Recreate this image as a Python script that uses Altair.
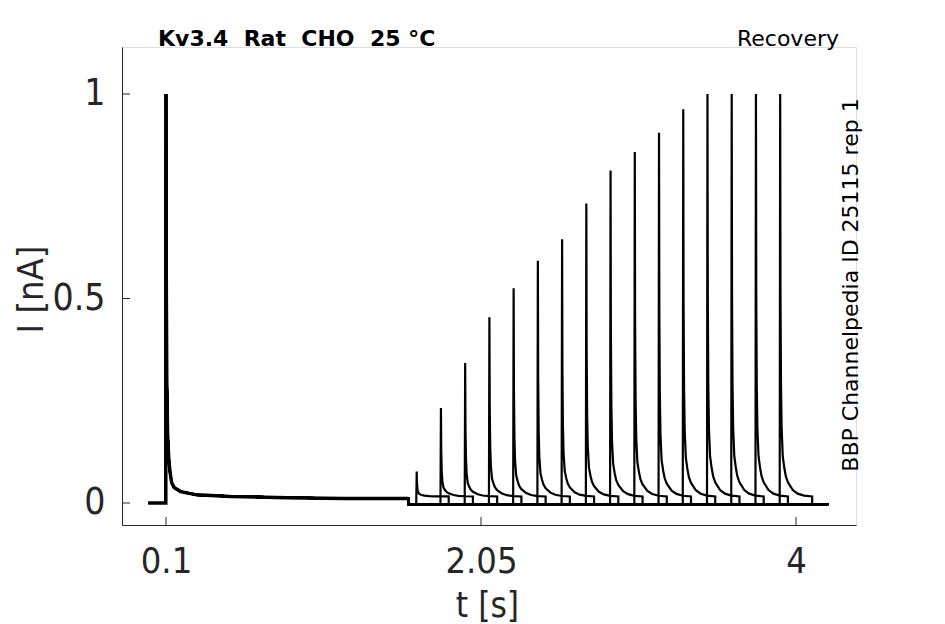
import altair as alt
import pandas as pd

# ---- data ----
# conditioning pulse, identical for every sweep: time [s], current [nA]
pre_t = [-0.01, 0.099, 0.1, 0.102, 0.105, 0.11, 0.117, 0.125, 0.135, 0.15, 0.19, 0.29, 0.5, 0.85, 1.2, 1.599]
pre_i = [0.0, 0.0, 1.0, 0.55, 0.3, 0.17, 0.11, 0.075, 0.05, 0.038, 0.028, 0.02, 0.016, 0.013, 0.011, 0.011]

# test pulses (one per sweep): onset time [s] and normalised peak current
test_onset = [1.65, 1.80, 1.95, 2.10, 2.25, 2.40, 2.55, 2.70, 2.85, 3.00, 3.15, 3.30, 3.45, 3.60, 3.75, 3.90]
test_peak = [0.077, 0.232, 0.342, 0.454, 0.525, 0.592, 0.645, 0.732, 0.813, 0.858, 0.905, 0.963, 1.0, 1.0, 1.0, 1.0]

# decay of a test-pulse current: time after onset [s], fraction of peak above plateau
decay_dt = [0.002, 0.004, 0.007, 0.011, 0.018, 0.028, 0.037, 0.05, 0.08, 0.11, 0.15, 0.2]
decay_frac = [1.0, 0.5, 0.28, 0.17, 0.1, 0.07, 0.05, 0.035, 0.016, 0.007, 0.002, 0.0]

plateau = 0.016    # steady current during test pulse [nA]
holding = -0.003   # current at holding potential [nA]
pre_end = 1.6      # end of conditioning pulse [s]
sweep_end = 4.2    # end of recording [s]

x_ticks = [0.1, 2.05, 4]
x_tick_text = ["0.1", "2.05", "4"]
y_ticks = [0, 0.5, 1]
y_tick_text = ["0", "0.5", "1"]

# ---- build the long tables ----
rows = []
for s, (t0, pk) in enumerate(zip(test_onset, test_peak)):
    pts = list(zip(pre_t, pre_i))
    pts.append((pre_end, holding))
    pts.append((t0 - 0.001, holding))
    for dt, fr in zip(decay_dt, decay_frac):
        pts.append((t0 + dt, plateau + (pk - plateau) * fr))
    pts.append((t0 + 0.2, holding))
    pts.append((sweep_end, holding))
    for k, (t, i) in enumerate(pts):
        rows.append({"sweep": s, "k": k, "t": t, "I": i})
df = pd.DataFrame(rows)
pre_df = pd.DataFrame({"t": pre_t, "I": pre_i, "k": list(range(len(pre_t)))})


def label_expr(vals, texts):
    expr = "''"
    for v, t in zip(vals, texts):
        expr = f"abs(datum.value - {v}) < 1e-9 ? '{t}' : " + expr
    return expr


W, H = 734, 478
xdom = [-0.1724, 4.3714]
ydom = [-0.0538, 1.1149]
FONT = "DejaVu Sans Condensed, DejaVu Sans"
TFONT = "DejaVu Sans"
INK = "#262626"

xs = alt.Scale(domain=xdom, nice=False, zero=False)
ys = alt.Scale(domain=ydom, nice=False, zero=False)

lines = alt.Chart(df).mark_line(color="black", strokeWidth=2.2, clip=True).encode(
    x=alt.X("t:Q", scale=xs, axis=alt.Axis(
        values=x_ticks, labelExpr=label_expr(x_ticks, x_tick_text),
        ticks=False, tickSize=0, grid=False,
        labelFontSize=36, labelPadding=36, labelBaseline="middle",
        labelColor=INK, labelFont=FONT,
        domainColor=INK, title="t [s]", titleFontSize=35, titleFont=FONT,
        titleFontWeight="normal", titleColor=INK, titleX=365, titleY=80,
        titleBaseline="middle", titleAlign="center")),
    y=alt.Y("I:Q", scale=ys, axis=alt.Axis(
        values=y_ticks, labelExpr=label_expr(y_ticks, y_tick_text),
        ticks=False, tickSize=0, grid=False,
        labelFontSize=37, labelPadding=17, labelColor=INK, labelFont=FONT,
        domainColor=INK, title="I [nA]", titleFontSize=36, titleFont=FONT,
        titleFontWeight="normal", titleColor=INK, titleX=-91, titleY=242,
        titleBaseline="middle", titleAlign="center", titleAngle=270)),
    detail="sweep:N",
    order="k:Q",
)

# thicker band of the 16 overlapping (noisy) conditioning-pulse traces
pre_band = alt.Chart(pre_df).mark_line(color="black", strokeWidth=3.4, clip=True).encode(
    x=alt.X("t:Q", scale=xs), y=alt.Y("I:Q", scale=ys), order="k:Q")

xt = alt.Chart(pd.DataFrame({"v": x_ticks})).mark_rule(color=INK, strokeWidth=1).encode(
    x=alt.X("v:Q", scale=xs), y=alt.value(H), y2=alt.value(H - 8))
yt = alt.Chart(pd.DataFrame({"v": y_ticks})).mark_rule(color=INK, strokeWidth=1).encode(
    y=alt.Y("v:Q", scale=ys), x=alt.value(0), x2=alt.value(8))

NB = "\u00a0"
title_l = alt.Chart(pd.DataFrame({"s": [f"Kv3.4{NB}{NB}Rat{NB}{NB}CHO{NB}{NB}25 °C"]})).mark_text(
    font=TFONT, fontSize=22, fontWeight="bold", align="left", baseline="middle",
    color="black").encode(x=alt.value(36), y=alt.value(-8), text="s:N")
title_r = alt.Chart(pd.DataFrame({"s": ["Recovery"]})).mark_text(
    font=TFONT, fontSize=22, align="right", baseline="middle",
    color="black").encode(x=alt.value(717), y=alt.value(-8), text="s:N")
side = alt.Chart(pd.DataFrame({"s": ["BBP Channelpedia ID 25115 rep 1"]})).mark_text(
    font=TFONT, fontSize=22, align="center", baseline="middle", angle=270,
    color="black").encode(x=alt.value(729), y=alt.value(238), text="s:N")

chart = alt.layer(lines, pre_band, xt, yt, title_l, title_r, side).properties(
    width=W, height=H,
    autosize=alt.AutoSizeParams(type="none"),
    padding={"left": 114, "top": 39, "right": 80, "bottom": 99},
).configure_view(stroke=None).configure(background="white")

chart.save("out.html", embed_options={"renderer": "svg", "actions": False})
